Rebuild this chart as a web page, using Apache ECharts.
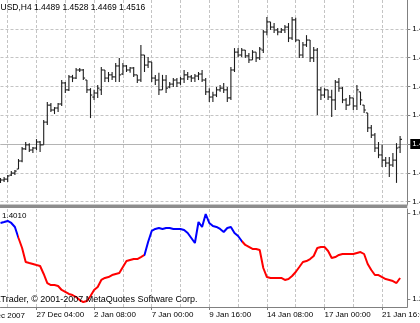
<!DOCTYPE html>
<html><head><meta charset="utf-8">
<script src="https://cdn.jsdelivr.net/npm/echarts@6/dist/echarts.min.js"></script>
<style>html,body{margin:0;padding:0;background:#fff;overflow:hidden}#c{width:420px;height:323px}</style>
</head><body><div id="c"></div>
<script>
// ---------- data ----------
const symbolName = 'EURUSD,H4';
const open = [1.4372,1.4375,1.4378,1.4392,1.4399,1.4413,1.4441,1.4483,1.4497,1.4479,1.4486,1.4507,1.4497,1.4576,1.4635,1.4618,1.4625,1.4639,1.4712,1.4688,1.4733,1.4729,1.4757,1.4757,1.4722,1.4688,1.4663,1.4677,1.4688,1.4757,1.4729,1.4740,1.4733,1.4771,1.4743,1.4771,1.4757,1.4764,1.4740,1.4722,1.4809,1.4774,1.4785,1.4729,1.4722,1.4688,1.4722,1.4698,1.4708,1.4722,1.4712,1.4726,1.4740,1.4733,1.4729,1.4736,1.4743,1.4722,1.4681,1.4663,1.4670,1.4688,1.4694,1.4688,1.4660,1.4757,1.4819,1.4809,1.4826,1.4806,1.4792,1.4819,1.4799,1.4826,1.4889,1.4924,1.4906,1.4896,1.4889,1.4896,1.4906,1.4868,1.4931,1.4861,1.4809,1.4844,1.4861,1.4799,1.4826,1.4688,1.4670,1.4688,1.4663,1.4653,1.4715,1.4694,1.4653,1.4635,1.4660,1.4632,1.4681,1.4635,1.4608,1.4556,1.4531,1.4486,1.4462,1.4444,1.4434,1.4427,1.4444,1.4489];
const high = [1.4382,1.4385,1.4392,1.4406,1.4410,1.4448,1.4490,1.4507,1.4503,1.4490,1.4517,1.4510,1.4583,1.4646,1.4642,1.4628,1.4642,1.4722,1.4715,1.4740,1.4740,1.4764,1.4764,1.4760,1.4722,1.4694,1.4688,1.4705,1.4767,1.4757,1.4750,1.4750,1.4781,1.4799,1.4781,1.4774,1.4767,1.4767,1.4740,1.4844,1.4809,1.4802,1.4785,1.4740,1.4747,1.4740,1.4740,1.4715,1.4729,1.4729,1.4733,1.4757,1.4750,1.4740,1.4743,1.4750,1.4757,1.4729,1.4694,1.4681,1.4698,1.4705,1.4712,1.4698,1.4767,1.4833,1.4833,1.4833,1.4826,1.4816,1.4826,1.4819,1.4837,1.4896,1.4941,1.4924,1.4920,1.4903,1.4903,1.4913,1.4920,1.4941,1.4938,1.4861,1.4854,1.4878,1.4861,1.4837,1.4833,1.4698,1.4694,1.4688,1.4688,1.4722,1.4729,1.4698,1.4660,1.4670,1.4660,1.4705,1.4681,1.4635,1.4608,1.4566,1.4538,1.4507,1.4497,1.4455,1.4455,1.4469,1.4503,1.4528];
const low = [1.4365,1.4368,1.4368,1.4389,1.4392,1.4413,1.4437,1.4479,1.4472,1.4469,1.4479,1.4472,1.4497,1.4566,1.4611,1.4604,1.4611,1.4632,1.4677,1.4684,1.4715,1.4726,1.4750,1.4722,1.4677,1.4590,1.4653,1.4660,1.4670,1.4715,1.4715,1.4722,1.4715,1.4715,1.4740,1.4750,1.4747,1.4733,1.4712,1.4715,1.4750,1.4764,1.4715,1.4705,1.4670,1.4688,1.4677,1.4694,1.4698,1.4698,1.4705,1.4712,1.4722,1.4715,1.4715,1.4722,1.4715,1.4670,1.4646,1.4646,1.4663,1.4681,1.4677,1.4646,1.4653,1.4750,1.4802,1.4802,1.4799,1.4781,1.4792,1.4785,1.4792,1.4816,1.4878,1.4896,1.4885,1.4878,1.4885,1.4885,1.4854,1.4861,1.4854,1.4799,1.4799,1.4837,1.4785,1.4785,1.4601,1.4653,1.4660,1.4653,1.4594,1.4618,1.4681,1.4642,1.4618,1.4635,1.4618,1.4618,1.4635,1.4608,1.4542,1.4521,1.4472,1.4451,1.4420,1.4420,1.4385,1.4420,1.4365,1.4469];
const close = [1.4375,1.4378,1.4389,1.4399,1.4406,1.4441,1.4483,1.4497,1.4479,1.4486,1.4507,1.4497,1.4576,1.4635,1.4618,1.4625,1.4639,1.4712,1.4688,1.4733,1.4729,1.4757,1.4757,1.4729,1.4688,1.4670,1.4677,1.4694,1.4757,1.4729,1.4740,1.4733,1.4771,1.4740,1.4771,1.4757,1.4764,1.4740,1.4722,1.4809,1.4774,1.4785,1.4729,1.4722,1.4688,1.4722,1.4694,1.4708,1.4722,1.4712,1.4726,1.4740,1.4733,1.4729,1.4736,1.4743,1.4722,1.4681,1.4663,1.4670,1.4688,1.4694,1.4688,1.4660,1.4757,1.4819,1.4809,1.4826,1.4806,1.4792,1.4819,1.4799,1.4830,1.4889,1.4924,1.4906,1.4896,1.4889,1.4896,1.4906,1.4868,1.4931,1.4861,1.4809,1.4844,1.4861,1.4799,1.4826,1.4688,1.4670,1.4688,1.4663,1.4653,1.4715,1.4694,1.4653,1.4635,1.4660,1.4632,1.4688,1.4653,1.4618,1.4556,1.4531,1.4486,1.4462,1.4444,1.4434,1.4427,1.4444,1.4486,1.4516];
const indicator = [1.5535,1.5581,1.5628,1.5535,1.5349,1.4837,1.4372,1.3721,1.3674,1.3628,1.3581,1.3535,1.3163,1.2744,1.2651,1.2651,1.2605,1.2419,1.2326,1.2233,1.2186,1.2093,1.1953,1.1860,1.1907,1.2140,1.2419,1.2558,1.2884,1.2977,1.3023,1.3116,1.3163,1.3209,1.3488,1.3767,1.3814,1.3860,1.3860,1.3953,1.4047,1.4651,1.5163,1.5256,1.5302,1.5256,1.5302,1.5302,1.5256,1.5256,1.5256,1.5209,1.5070,1.4837,1.4605,1.5581,1.5349,1.5953,1.5535,1.5395,1.5349,1.5256,1.5116,1.5302,1.5349,1.5070,1.4930,1.4698,1.4512,1.4419,1.4326,1.4326,1.4279,1.3442,1.3023,1.2977,1.2977,1.2977,1.2977,1.2884,1.2930,1.3070,1.3256,1.3488,1.3721,1.3767,1.3860,1.4000,1.4372,1.4419,1.4419,1.4233,1.3907,1.3953,1.4047,1.4093,1.4093,1.4093,1.4093,1.4140,1.4186,1.4093,1.3628,1.3349,1.3116,1.3116,1.3023,1.2930,1.2884,1.2837,1.2744,1.2977];
const indicatorCaption = '1.4010';
const colorBreaks = [5, 40, 67];               // bar index where the line colour switches
const segmentColors = ['#0000ff', '#ff0000', '#0000ff', '#ff0000'];
const priceTicks = [1.43, 1.44, 1.45, 1.46, 1.47, 1.48, 1.49];
const indicatorTicks = [1.2, 1.6];
const tickIndex = [10, 26, 42, 58, 74, 90, 106];
const tickLabels = ['27 Dec 04:00', '2 Jan 08:00', '7 Jan 00:00', '9 Jan 16:00', '14 Jan 08:00', '17 Jan 00:00', '21 Jan 16:00'];
const firstLabel = '24 Dec 2007';
const copyright = 'MetaTrader, \u00a9 2001-2007 MetaQuotes Software Corp.';

// ---------- layout ----------
const FONT = '"Liberation Sans", Arial, sans-serif';
const emptySlots = 2, gridEvery = 8, gridOffset = 2;
const nCat = close.length + emptySlots;
const plotLeft = 0.5, barStep = 3.6, plotWidth = barStep * (nCat - 1);
const mainTop = 0, mainH = 205, priceMax = 1.5, pxPerPrice = 2880;
const priceMin = priceMax - mainH / pxPerPrice;
const indTop = 209, indH = 98, pxPerInd = 215;
const indMax = 1.6 + 4 / pxPerInd, indMin = indMax - indH / pxPerInd;

const cats = [];
for (let i = 0; i < nCat; i++) {
  const k = tickIndex.indexOf(i);
  cats.push(k >= 0 ? tickLabels[k] : '');
}
const ohlc = close.map((c, i) => [i, open[i], high[i], low[i], c]);
const last = close.length - 1;

const mctx = document.createElement('canvas').getContext('2d');
function tw(t, size) { mctx.font = size + 'px ' + FONT; return mctx.measureText(t).width; }

const gridLine = { show: true, lineStyle: { color: '#c4c4c4', type: [3, 2], width: 1 } };
const splitIv = (i) => i >= gridOffset && (i - gridOffset) % gridEvery === 0;
const tickIv = (i) => tickIndex.indexOf(i) >= 0;

const pieces = [];
segmentColors.forEach((col, k) => {
  const p = { color: col };
  if (k > 0) p.gt = colorBreaks[k - 1];
  if (k < colorBreaks.length) p.lte = colorBreaks[k];
  pieces.push(p);
});

const chart = echarts.init(document.getElementById('c'), null, { renderer: 'canvas' });
chart.setOption({
  animation: false,
  backgroundColor: '#ffffff',
  textStyle: { fontFamily: FONT },
  grid: [
    { left: plotLeft, top: mainTop, width: plotWidth, height: mainH, containLabel: false, outerBoundsMode: 'none' },
    { left: plotLeft, top: indTop, width: plotWidth, height: indH, containLabel: false, outerBoundsMode: 'none' }
  ],
  xAxis: [
    { type: 'category', gridIndex: 0, data: cats, boundaryGap: false,
      axisLine: { show: false }, axisTick: { show: false }, axisLabel: { show: false },
      splitLine: Object.assign({ interval: splitIv }, gridLine) },
    { type: 'category', gridIndex: 1, data: cats, boundaryGap: false,
      axisLine: { show: true, lineStyle: { color: '#808080', width: 1 } },
      axisTick: { show: true, interval: tickIv, length: 3, lineStyle: { color: '#808080' } },
      axisLabel: { show: true, interval: tickIv, align: 'left', margin: 4, fontSize: 8, color: '#000', fontFamily: FONT, hideOverlap: false },
      splitLine: Object.assign({ interval: splitIv }, gridLine) }
  ],
  yAxis: [
    { type: 'value', gridIndex: 0, position: 'right', min: priceMin, max: priceMax,
      axisLine: { show: true, lineStyle: { color: '#808080', width: 1 } },
      axisTick: { show: true, customValues: priceTicks, length: 3, lineStyle: { color: '#808080' } },
      axisLabel: { show: true, customValues: priceTicks, margin: 5, fontSize: 8, color: '#000', fontFamily: FONT,
        formatter: (v) => v.toFixed(4) },
      splitLine: { show: false } },
    { type: 'value', gridIndex: 1, position: 'right', min: indMin, max: indMax,
      axisLine: { show: true, lineStyle: { color: '#808080', width: 1 } },
      axisTick: { show: true, customValues: indicatorTicks, length: 3, lineStyle: { color: '#808080' } },
      axisLabel: { show: true, customValues: indicatorTicks, margin: 5, fontSize: 8, color: '#000', fontFamily: FONT,
        formatter: (v) => v.toFixed(4) },
      splitLine: { show: false } }
  ],
  visualMap: [{ show: false, type: 'piecewise', seriesIndex: 2, dimension: 0, pieces: pieces }],
  series: [
    { type: 'line', xAxisIndex: 0, yAxisIndex: 0, data: close, showSymbol: false, silent: true,
      lineStyle: { opacity: 0, width: 0 }, z: 1,
      markLine: { silent: true, symbol: ['none', 'none'], animation: false,
        data: priceTicks.map(v => ({ yAxis: v, lineStyle: { color: '#c4c4c4', type: [3, 2], width: 1 }, label: { show: false } }))
          .concat([{ yAxis: close[last], lineStyle: { color: '#b4b4b4', type: 'solid', width: 1 },
            label: { show: true, position: 'end', distance: 3, formatter: () => close[last].toFixed(4),
              backgroundColor: '#000', color: '#fff', fontSize: 8, fontFamily: FONT, padding: [1, 1, 1, 2] } }]) } },
    { type: 'custom', xAxisIndex: 0, yAxisIndex: 0, data: ohlc, z: 5,
      encode: { x: 0, y: [1, 2, 3, 4] },
      renderItem: function (params, api) {
        const x = api.value(0);
        const pO = api.coord([x, api.value(1)]);
        const pH = api.coord([x, api.value(2)]);
        const pL = api.coord([x, api.value(3)]);
        const pC = api.coord([x, api.value(4)]);
        const cx = pH[0];
        const st = { stroke: '#1e1e1e', lineWidth: 1.1 };
        return { type: 'group', children: [
          { type: 'line', shape: { x1: cx, y1: pH[1], x2: cx, y2: pL[1] }, style: st },
          { type: 'line', shape: { x1: cx - 1.8, y1: pO[1], x2: cx, y2: pO[1] }, style: st },
          { type: 'line', shape: { x1: cx, y1: pC[1], x2: cx + 1.8, y2: pC[1] }, style: st }
        ] };
      } },
    { type: 'line', xAxisIndex: 1, yAxisIndex: 1, data: indicator, showSymbol: false, symbol: 'none',
      lineStyle: { width: 2 }, z: 4, silent: true }
  ],
  graphic: [
    { type: 'rect', shape: { x: 0, y: 205, width: plotLeft + plotWidth, height: 3 }, style: { fill: '#8c8c8c' }, z: 50 },
    { type: 'line', shape: { x1: 0, y1: 204.5, x2: plotLeft + plotWidth, y2: 204.5 }, style: { stroke: '#c8c8c8', lineWidth: 1 }, z: 50 },
    { type: 'text', x: -tw('EUR', 8.5) + 0.5, y: 7.5, z: 60,
      style: { text: symbolName + ' ' + [open[last], high[last], low[last], close[last]].map(v => v.toFixed(4)).join(' '),
        fill: '#000', font: '8.5px ' + FONT, textVerticalAlign: 'middle', textAlign: 'left' } },
    { type: 'text', x: 2, y: 216, z: 60,
      style: { text: indicatorCaption, fill: '#000', font: '8px ' + FONT, textVerticalAlign: 'middle', textAlign: 'left' } },
    { type: 'text', x: -tw('Meta', 9) + 0.5, y: 300, z: 60,
      style: { text: copyright, fill: '#000', font: '9px ' + FONT, textVerticalAlign: 'middle', textAlign: 'left' } },
    { type: 'text', x: 25, y: 316, z: 60,
      style: { text: firstLabel, fill: '#000', font: '8px ' + FONT, textVerticalAlign: 'middle', textAlign: 'right' } }
  ]
});
</script></body></html>
